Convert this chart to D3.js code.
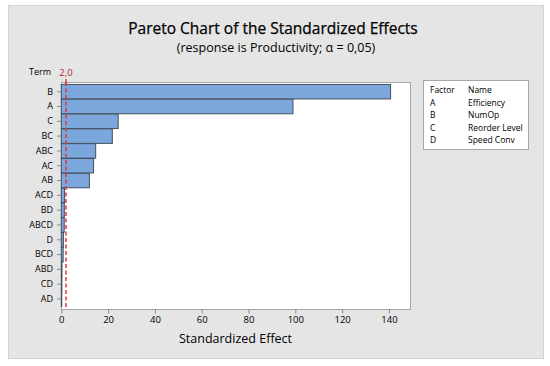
<!DOCTYPE html>
<html>
<head>
<meta charset="utf-8">
<script src="https://cdn.jsdelivr.net/npm/d3@7"></script>
<style>
  html, body { margin: 0; padding: 0; background: #fff; }
  svg text { font-family: "Open Sans", "Noto Sans", sans-serif; fill: #000; }
</style>
</head>
<body>
<div id="chart"></div>
<script>
// Terms in Pareto order (largest first)
var terms = ['B', 'A', 'C', 'BC', 'ABC', 'AC', 'AB', 'ACD', 'BD', 'ABCD', 'D', 'BCD', 'ABD', 'CD', 'AD'];
var effects = [140.7, 99.0, 24.3, 21.8, 14.7, 13.8, 12.0, 1.4, 1.3, 1.25, 0.9, 0.8, 0.3, 0.25, 0.2];
var xTicks = [0, 20, 40, 60, 80, 100, 120, 140];
var refValue = 2.0;
var refLabel = '2,0';
var factorCodes = ['A', 'B', 'C', 'D'];
var factorNames = ['Efficiency', 'NumOp', 'Reorder Level', 'Speed Conv'];

var W = 550, H = 366;
var svg = d3.select('#chart').append('svg')
  .attr('width', W)
  .attr('height', H);

// Outer panel
svg.append('rect')
  .attr('x', 8.5).attr('y', 5.5)
  .attr('width', 535).attr('height', 353)
  .attr('fill', '#e5e5e5')
  .attr('stroke', '#d2d2d2');

// Titles
svg.append('text')
  .attr('x', 273).attr('y', 34)
  .attr('text-anchor', 'middle')
  .attr('font-size', '15.5px')
  .style('stroke', '#000')
  .style('stroke-width', 0.25)
  .text('Pareto Chart of the Standardized Effects');
svg.append('text')
  .attr('x', 276).attr('y', 52)
  .attr('text-anchor', 'middle')
  .attr('font-size', '12.5px')
  .text('(response is Productivity; \u03b1 = 0,05)');

// Plot area
var plot = { left: 61, top: 82, right: 410, bottom: 309 };

var x = d3.scaleLinear()
  .domain([0, 149])
  .range([plot.left + 0.3, plot.right]);

var y = d3.scaleBand()
  .domain(terms)
  .range([84.3, 306.4])
  .paddingInner(0.02)
  .paddingOuter(0.01);

svg.append('rect')
  .attr('x', plot.left + 0.5).attr('y', plot.top + 0.5)
  .attr('width', plot.right - plot.left).attr('height', plot.bottom - plot.top)
  .attr('fill', '#fff')
  .attr('stroke', '#a6a6a6');

// Bars
svg.append('g')
  .selectAll('rect')
  .data(terms)
  .join('rect')
  .attr('x', x(0))
  .attr('y', function (d) { return y(d); })
  .attr('width', function (d, i) { return x(effects[i]) - x(0); })
  .attr('height', y.bandwidth())
  .attr('fill', '#7ba7dc')
  .attr('stroke', '#45505e')
  .attr('stroke-width', 1);

// Reference line
svg.append('line')
  .attr('x1', x(refValue)).attr('x2', x(refValue))
  .attr('y1', plot.top).attr('y2', plot.bottom)
  .attr('stroke', '#e0383c')
  .attr('stroke-width', 1.5)
  .attr('stroke-dasharray', '4,2.5');
svg.append('line')
  .attr('x1', x(refValue)).attr('x2', x(refValue))
  .attr('y1', plot.top - 3).attr('y2', plot.top + 2)
  .attr('stroke', '#c8282d')
  .attr('stroke-width', 1.2);
svg.append('text')
  .attr('x', x(refValue)).attr('y', 76)
  .attr('text-anchor', 'middle')
  .attr('font-size', '9.5px')
  .style('fill', '#b3262b')
  .text(refLabel);

// Y axis
var yAxis = svg.append('g')
  .attr('transform', 'translate(' + plot.left + ',0)')
  .call(d3.axisLeft(y).tickSize(4).tickPadding(4));
yAxis.select('.domain').remove();
yAxis.selectAll('line').attr('stroke', '#8a8a8a');
yAxis.selectAll('text')
  .attr('font-size', '9px')
  .attr('font-family', '"Open Sans", "Noto Sans", sans-serif')
  .attr('fill', '#000');

svg.append('text')
  .attr('x', 40).attr('y', 75)
  .attr('text-anchor', 'middle')
  .attr('font-size', '9px')
  .text('Term');

// X axis
var xAxis = svg.append('g')
  .attr('transform', 'translate(0,' + (plot.bottom + 0.5) + ')')
  .call(d3.axisBottom(x).tickValues(xTicks).tickSize(4).tickPadding(3));
xAxis.select('.domain').remove();
xAxis.selectAll('line').attr('stroke', '#8a8a8a');
xAxis.selectAll('text')
  .attr('font-size', '9.5px')
  .attr('font-family', '"Open Sans", "Noto Sans", sans-serif')
  .attr('fill', '#000');

svg.append('text')
  .attr('x', (plot.left + plot.right) / 2).attr('y', 343)
  .attr('text-anchor', 'middle')
  .attr('font-size', '12.5px')
  .text('Standardized Effect');

// Factor legend
var lg = svg.append('g').attr('transform', 'translate(423,80)');
lg.append('rect')
  .attr('x', 0.5).attr('y', 0.5)
  .attr('width', 105).attr('height', 69)
  .attr('fill', '#fff')
  .attr('stroke', '#a6a6a6');
lg.append('text').attr('x', 7).attr('y', 13).attr('font-size', '8.5px').text('Factor');
lg.append('text').attr('x', 45).attr('y', 13).attr('font-size', '8.5px').text('Name');
factorCodes.forEach(function (c, i) {
  lg.append('text').attr('x', 7).attr('y', 25.5 + i * 12.5).attr('font-size', '8.5px').text(c);
  lg.append('text').attr('x', 45).attr('y', 25.5 + i * 12.5).attr('font-size', '8.5px').text(factorNames[i]);
});
</script>
</body>
</html>
